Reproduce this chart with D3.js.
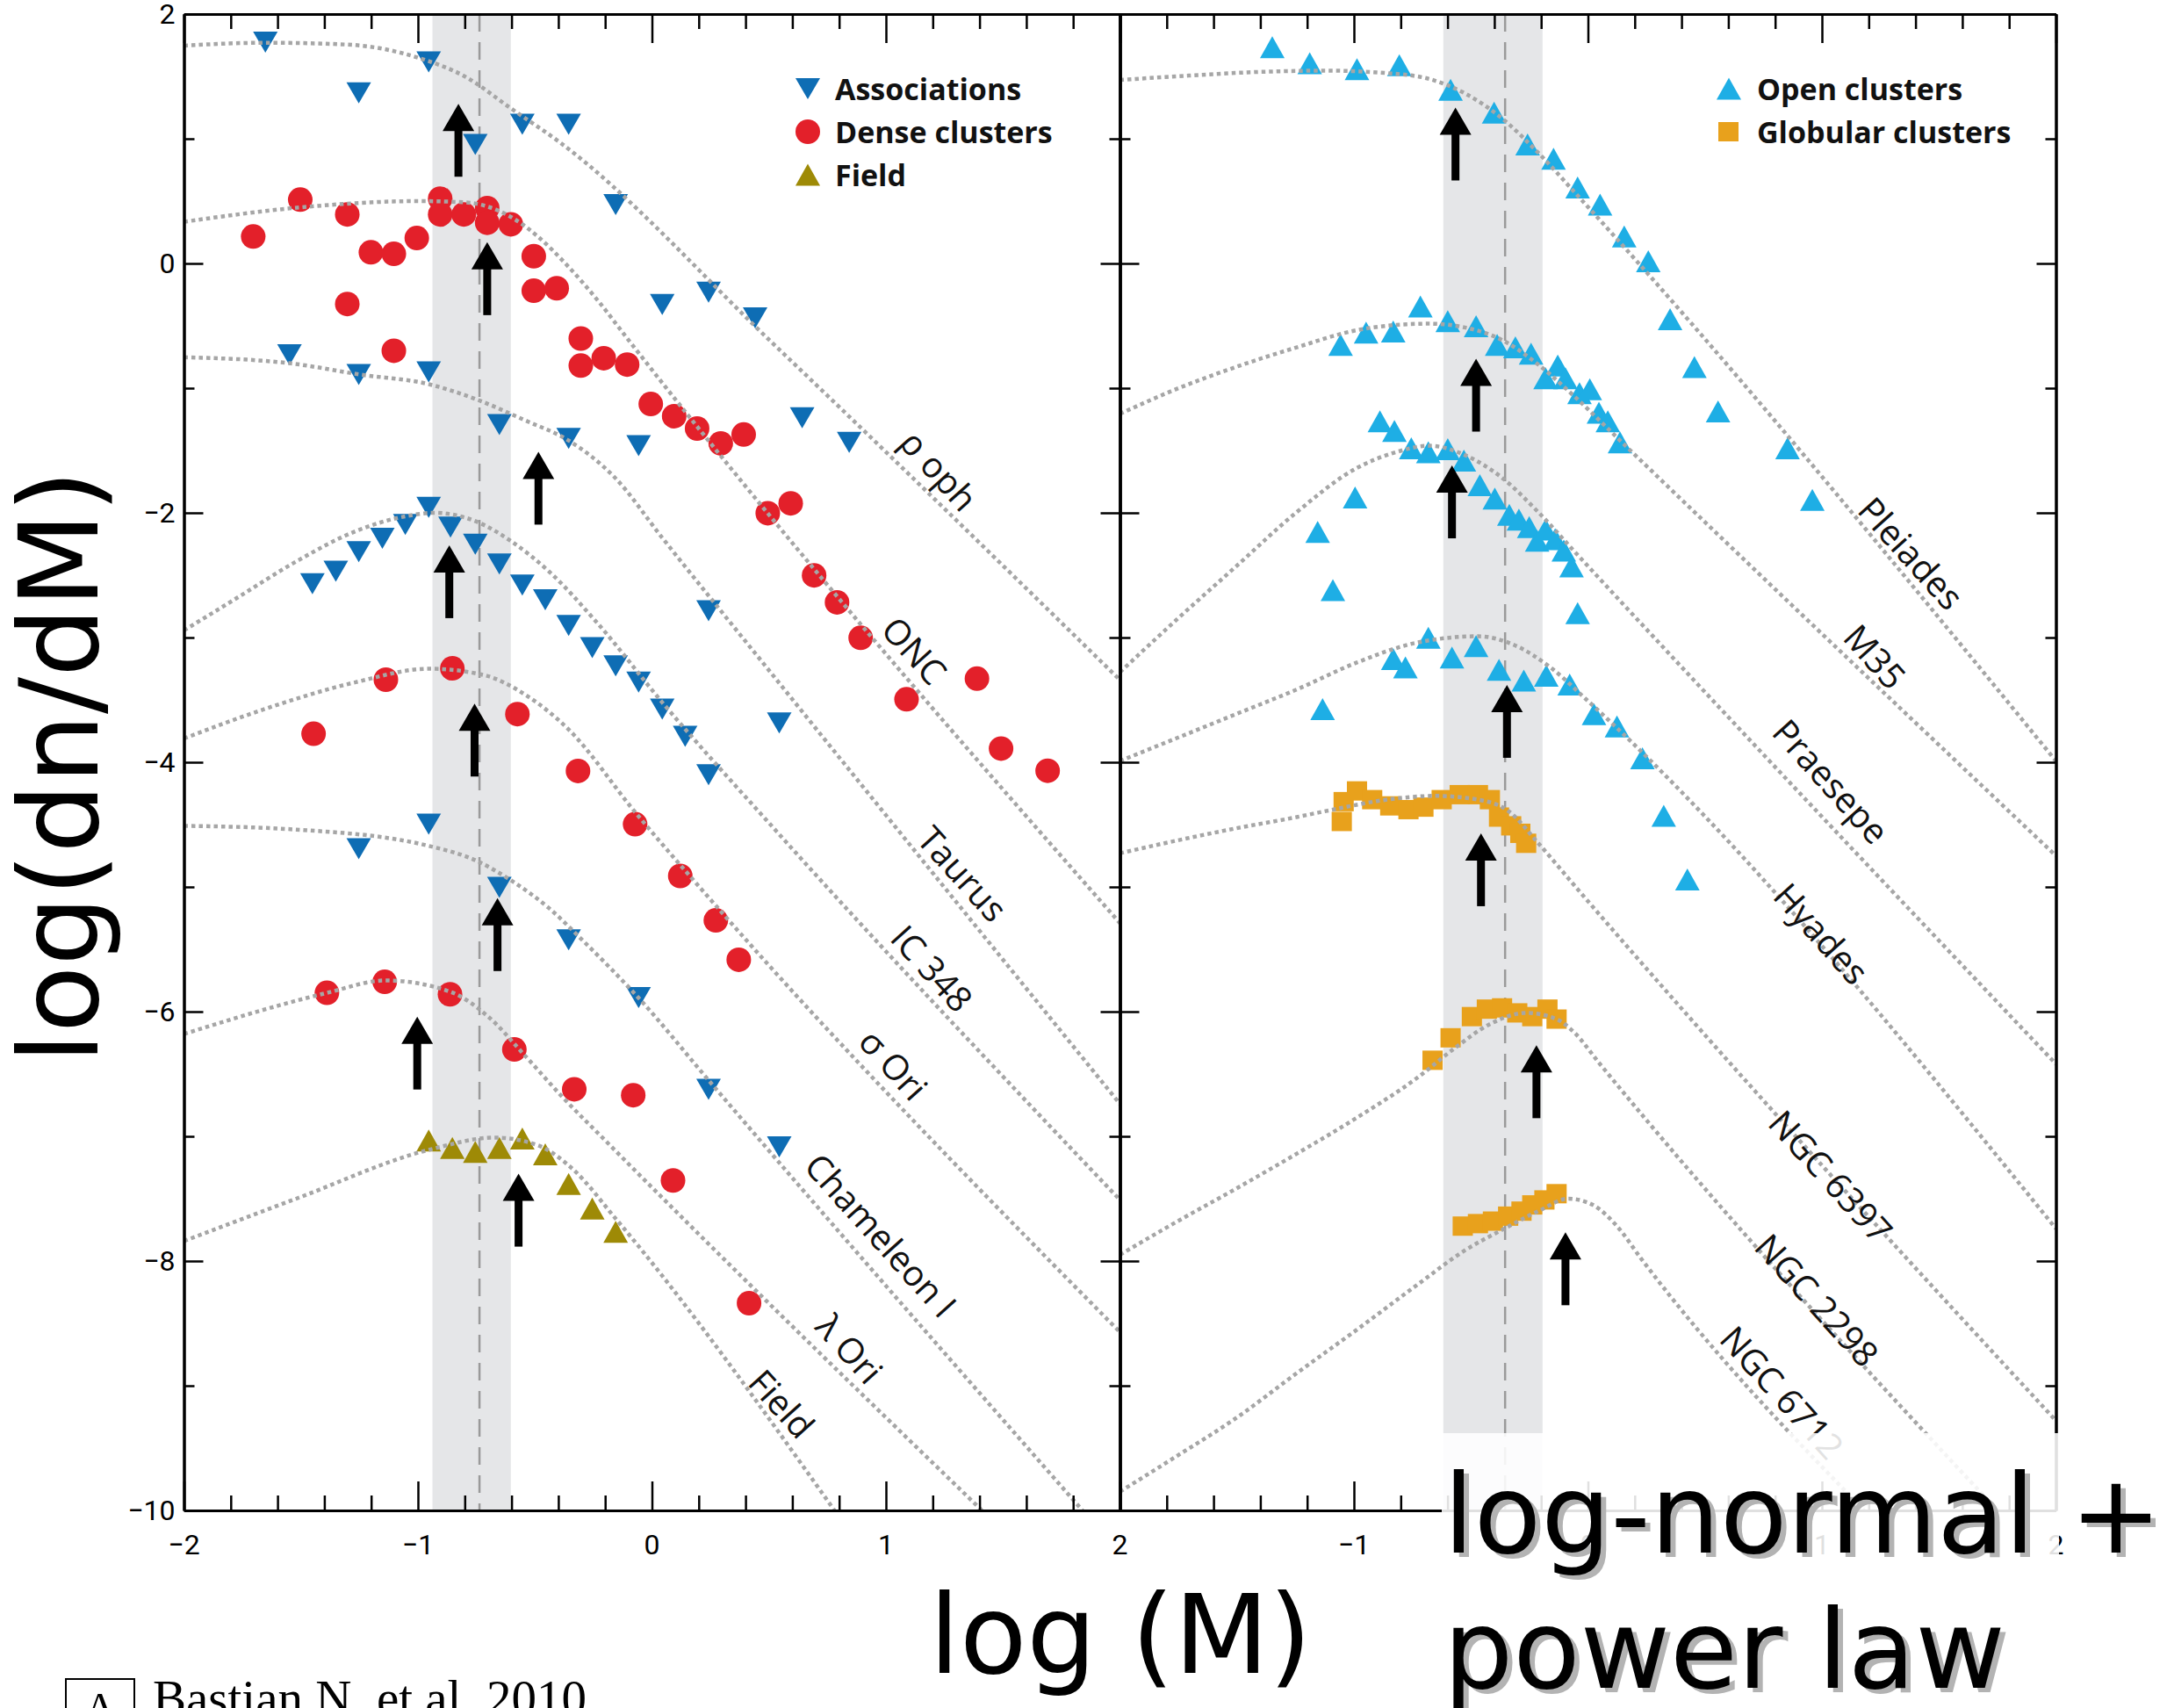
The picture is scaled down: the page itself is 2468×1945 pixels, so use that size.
<!DOCTYPE html>
<html><head><meta charset="utf-8">
<script src="https://cdn.jsdelivr.net/npm/d3@7"></script>
<style>body{margin:0;background:#fff}svg{display:block}</style>
</head><body>
<svg id="c" width="2468" height="1945"></svg>
<script>
// ---------------- DATA ----------------
const xTickVals = [-2,-1,0,1,2];
const xTickLabelsL = ["\u22122","\u22121","0","1","2"];
const xTickValsR = [-1,0,1,2];
const xTickLabelsR = ["\u22121","0","1","2"];
const yTickVals = [2,0,-2,-4,-6,-8,-10];
const yTickLabels = ["2","0","\u22122","\u22124","\u22126","\u22128","\u221210"];

// Associations (blue, down triangles) – left panel
const associations = [
 [-1.652,1.775],[-0.954,1.617],[-1.253,1.368],[-0.755,0.954],[-0.554,1.116],[-0.356,1.116],[-0.155,0.472],[0.044,-0.329],[0.242,-0.231],[0.441,-0.436],[0.642,-1.237],[0.843,-1.435],
 [-1.549,-0.732],[-1.253,-0.890],[-0.954,-0.870],[-0.652,-1.293],[-0.356,-1.403],[-0.057,-1.462],[0.242,-2.785],[0.544,-3.685],
 [-1.451,-2.568],[-1.351,-2.469],[-1.253,-2.311],[-1.152,-2.205],[-1.054,-2.094],[-0.954,-1.956],[-0.861,-2.114],[-0.755,-2.252],[-0.652,-2.410],[-0.554,-2.580],[-0.456,-2.698],[-0.356,-2.903],[-0.255,-3.081],[-0.155,-3.227],[-0.057,-3.357],[0.044,-3.574],[0.142,-3.792],[0.242,-4.10],
 [-0.954,-4.497],[-1.253,-4.694],[-0.652,-5.003],[-0.356,-5.425],[-0.057,-5.888],[0.242,-6.623],[0.544,-7.085]
];
// Dense clusters (red circles) – ONC, sigma Ori, lambda Ori
const denseClusters = [
 [-1.704,0.216],[-1.503,0.512],[-1.302,0.393],[-1.302,-0.325],[-1.201,0.089],[-1.103,0.077],[-1.103,-0.700],[-1.005,0.204],[-0.905,0.520],[-0.905,0.393],[-0.804,0.393],[-0.704,0.444],[-0.704,0.326],[-0.603,0.314],[-0.505,0.058],[-0.505,-0.219],[-0.407,-0.199],[-0.304,-0.602],[-0.304,-0.819],[-0.206,-0.760],[-0.106,-0.811],[-0.005,-1.127],[0.095,-1.225],[0.193,-1.324],[0.294,-1.443],[0.392,-1.372],[0.495,-2.003],[0.593,-1.924],[0.693,-2.501],[0.791,-2.718],[0.892,-3.002],[1.088,-3.495],[1.389,-3.330],[1.492,-3.890],[1.691,-4.068],
 [-1.446,-3.772],[-1.137,-3.338],[-0.853,-3.247],[-0.575,-3.614],[-0.316,-4.07],[-0.072,-4.497],[0.121,-4.912],[0.273,-5.268],[0.371,-5.584],
 [-1.389,-5.849],[-1.142,-5.761],[-0.863,-5.861],[-0.588,-6.303],[-0.332,-6.623],[-0.080,-6.670],[0.090,-7.354],[0.415,-8.338]
];
// Field (olive, up triangles)
const fieldStars = [
 [-0.954,-7.034],[-0.853,-7.094],[-0.755,-7.125],[-0.652,-7.094],[-0.554,-7.018],[-0.456,-7.145],[-0.356,-7.382],[-0.255,-7.580],[-0.155,-7.765]
];
// Open clusters (light blue up triangles) – right panel
const openClusters = [
 [-1.349,1.735],[-1.189,1.605],[-0.987,1.558],[-0.806,1.589],[-0.587,1.392],[-0.401,1.210],[-0.258,0.954],[-0.147,0.839],[-0.044,0.610],[0.052,0.472],[0.155,0.216],[0.258,0.018],[0.351,-0.448],[0.455,-0.831],[0.556,-1.186],[0.853,-1.482],[0.959,-1.897],
 [-1.057,-0.653],[-0.948,-0.554],[-0.832,-0.546],[-0.716,-0.345],[-0.599,-0.463],[-0.478,-0.503],[-0.388,-0.653],[-0.310,-0.673],[-0.243,-0.724],[-0.181,-0.921],[-0.129,-0.819],[-0.096,-0.921],[-0.036,-1.040],[0.008,-1.008],[0.047,-1.198],[0.085,-1.265],[0.137,-1.435],
 [-1.155,-2.153],[-1.090,-2.619],[-0.995,-1.877],[-0.889,-1.265],[-0.827,-1.344],[-0.755,-1.482],[-0.682,-1.514],[-0.599,-1.490],[-0.530,-1.581],[-0.462,-1.778],[-0.398,-1.885],[-0.336,-2.015],[-0.295,-2.054],[-0.251,-2.114],[-0.217,-2.224],[-0.181,-2.133],[-0.140,-2.212],[-0.103,-2.303],[-0.070,-2.430],[-0.044,-2.805],
 [-1.134,-3.574],[-0.832,-3.172],[-0.780,-3.239],[-0.682,-3.002],[-0.581,-3.160],[-0.478,-3.069],[-0.380,-3.259],[-0.274,-3.345],[-0.178,-3.306],[-0.078,-3.377],[0.026,-3.614],[0.124,-3.713],[0.233,-3.969],[0.324,-4.43],[0.425,-4.94]
];
// Globular clusters (orange squares)
const globularClusters = [
 [-1.052,-4.475],[-1.044,-4.316],[-0.987,-4.23],[-0.922,-4.30],[-0.845,-4.35],[-0.767,-4.38],[-0.703,-4.36],[-0.625,-4.30],[-0.548,-4.26],[-0.470,-4.26],[-0.419,-4.30],[-0.380,-4.44],[-0.328,-4.51],[-0.289,-4.57],[-0.264,-4.65],
 [-0.664,-6.39],[-0.587,-6.21],[-0.496,-6.04],[-0.432,-5.98],[-0.367,-5.97],[-0.302,-6.01],[-0.238,-6.04],[-0.173,-5.98],[-0.134,-6.06],
 [-0.535,-7.72],[-0.470,-7.70],[-0.406,-7.68],[-0.341,-7.64],[-0.284,-7.60],[-0.238,-7.55],[-0.186,-7.51],[-0.134,-7.46]
];

// Model curves (log-normal + power law)
const curveRhoOph = [[-2,1.747],[-1.65,1.77],[-1.3,1.755],[-1.0,1.65],[-0.8,1.50],[-0.6,1.24],[-0.4,0.98],[0.516,-0.64],[2,-3.34]];
const curveONC = [[-2,0.334],[-1.5,0.45],[-1.0,0.50],[-0.8,0.49],[-0.6,0.37],[-0.49,0.22],[-0.36,-0.02],[-0.23,-0.30],[-0.11,-0.59],[2,-5.29]];
const curveTaurus = [[-2,-0.752],[-1.55,-0.80],[-1.25,-0.89],[-0.95,-0.97],[-0.75,-1.09],[-0.54,-1.26],[-0.356,-1.42],[-0.157,-1.72],[0.044,-2.20],[0.516,-3.30],[2,-6.74]];
const curveIC348 = [[-2,-2.943],[-1.78,-2.69],[-1.52,-2.39],[-1.27,-2.15],[-1.06,-2.03],[-0.93,-2.0],[-0.75,-2.07],[-0.60,-2.23],[-0.44,-2.47],[-0.235,-2.88],[0.044,-3.52],[0.516,-4.52],[2,-7.51]];
const curveSigmaOri = [[-2,-3.81],[-1.65,-3.57],[-1.27,-3.36],[-0.95,-3.25],[-0.72,-3.30],[-0.54,-3.46],[-0.36,-3.73],[-0.072,-4.40],[0.273,-5.15],[2,-8.57]];
const curveChamI = [[-2,-4.51],[-1.52,-4.54],[-0.956,-4.67],[-0.75,-4.79],[-0.60,-4.95],[-0.44,-5.17],[-0.29,-5.44],[-0.057,-5.89],[0.242,-6.55],[1.84,-10]];
const curveLambdaOri = [[-2,-6.18],[-1.65,-5.98],[-1.39,-5.85],[-1.137,-5.75],[-0.863,-5.84],[-0.70,-6.04],[-0.544,-6.35],[-0.39,-6.67],[-0.18,-7.07],[1.41,-10]];
const curveField = [[-2,-7.84],[-1.52,-7.50],[-0.956,-7.11],[-0.67,-7.01],[-0.49,-7.07],[-0.34,-7.26],[-0.155,-7.66],[0.78,-10]];

const curvePleiades = [[-2,1.471],[-1.762,1.50],[-1.375,1.538],[-1.116,1.546],[-0.858,1.526],[-0.677,1.479],[-0.522,1.36],[-0.367,1.163],[-0.212,0.887],[-0.057,0.571],[2,-3.99]];
const curveM35 = [[-2,-1.206],[-1.762,-1.01],[-1.504,-0.83],[-1.245,-0.673],[-0.987,-0.535],[-0.832,-0.495],[-0.677,-0.483],[-0.522,-0.515],[-0.367,-0.614],[-0.212,-0.811],[-0.057,-1.068],[0.15,-1.443],[2,-4.75]];
const curvePraesepe = [[-2,-3.278],[-1.762,-2.864],[-1.504,-2.43],[-1.245,-1.995],[-0.987,-1.64],[-0.832,-1.52],[-0.677,-1.462],[-0.522,-1.54],[-0.367,-1.719],[-0.212,-1.995],[-0.057,-2.311],[2,-6.42]];
const curveHyades = [[-2,-3.99],[-1.762,-3.81],[-1.504,-3.614],[-1.245,-3.417],[-0.987,-3.20],[-0.729,-3.04],[-0.47,-2.99],[-0.315,-3.06],[-0.16,-3.24],[-0.005,-3.50],[2,-7.74]];
const curveNGC6397 = [[-2,-4.73],[-1.762,-4.63],[-1.504,-4.53],[-1.245,-4.44],[-1.09,-4.38],[-0.858,-4.30],[-0.651,-4.27],[-0.47,-4.30],[-0.341,-4.39],[-0.212,-4.65],[-0.057,-4.99],[2,-9.28]];
const curveNGC2298 = [[-2,-7.95],[-1.762,-7.69],[-1.504,-7.42],[-1.245,-7.14],[-0.987,-6.85],[-0.729,-6.53],[-0.574,-6.30],[-0.419,-6.10],[-0.264,-6.01],[-0.134,-6.06],[-0.057,-6.17],[0.047,-6.41],[1.75,-10]];
const curveNGC6712 = [[-2,-9.85],[-1.762,-9.57],[-1.504,-9.26],[-1.245,-8.90],[-0.987,-8.55],[-0.729,-8.19],[-0.522,-7.91],[-0.367,-7.75],[-0.212,-7.60],[-0.083,-7.50],[0.021,-7.55],[0.124,-7.72],[0.227,-7.98],[1.18,-10]];

const leftCurveNames = ["\u03C1 oph","ONC","Taurus","IC 348","\u03C3 Ori","Chameleon I","\u03BB Ori","Field"];
const leftLabelPos = [[1.229,-1.655],[1.124,-3.10],[1.33,-4.89],[1.199,-5.65],[1.034,-6.42],[0.981,-7.79],[0.847,-8.70],[0.557,-9.14]];
const rightCurveNames = ["Pleiades","M35","Praesepe","Hyades","NGC 6397","NGC 2298","NGC 6712"];
const rightLabelPos = [[1.383,-2.32],[1.229,-3.15],[1.041,-4.15],[1.0,-5.37],[1.04,-7.32],[0.981,-8.31],[0.832,-9.05]];

// characteristic-mass arrows: [log M, tip value]
const leftArrows = [[-0.827,1.28],[-0.704,0.17],[-0.485,-1.51],[-0.866,-2.26],[-0.758,-3.53],[-0.66,-5.09],[-1.003,-6.04],[-0.57,-7.30]];
const rightArrows = [[-0.566,1.25],[-0.478,-0.764],[-0.581,-1.62],[-0.346,-3.38],[-0.457,-4.57],[-0.220,-6.27],[-0.096,-7.77]];

// shaded bands and dashed lines
const leftBand = [-0.938,-0.603], leftDash = -0.737;
const rightBand = [-0.618,-0.194], rightDash = -0.354;

const legendLeft = ["Associations","Dense clusters","Field"];
const legendRight = ["Open clusters","Globular clusters"];

// ---------------- DRAW ----------------
const svg = d3.select("#c");
const xL = d3.scaleLinear().domain([-2,2]).range([209.5,1275.5]);
const xR = d3.scaleLinear().domain([-2,2]).range([1275.5,2341.5]);
const y = d3.scaleLinear().domain([-10,2]).range([1720,16]);

const C = {assoc:"#0e6db4", dense:"#e3202a", field:"#9e8a06", open:"#1eaee5", glob:"#e8a11c", curve:"#a6a6a6"};

const defs = svg.append("defs");
[["clipL",xL],["clipR",xR]].forEach(([id,xs])=>{
  defs.append("clipPath").attr("id",id).append("rect")
    .attr("x",xs(-2)).attr("y",y(2)).attr("width",xs(2)-xs(-2)).attr("height",y(-10)-y(2));
});

// bands
[[xL,leftBand,leftDash],[xR,rightBand,rightDash]].forEach(([xs,b,d])=>{
  svg.append("rect").attr("x",xs(b[0])).attr("y",y(2)).attr("width",xs(b[1])-xs(b[0])).attr("height",y(-10)-y(2)).attr("fill","#e5e6e8");
  svg.append("line").attr("x1",xs(d)).attr("x2",xs(d)).attr("y1",y(2)).attr("y2",y(-10))
    .attr("stroke","#9a9a9a").attr("stroke-width",2.5).attr("stroke-dasharray","20,12");
});

const triDown = (w,h)=>`M${-w/2},${-h/2}L${w/2},${-h/2}L0,${h/2}Z`;
const triUp = (w,h)=>`M${-w/2},${h/2}L${w/2},${h/2}L0,${-h/2}Z`;

function drawPts(data, xs, shape, color){
  const g = svg.append("g");
  if (shape==="circle"){
    g.selectAll("circle").data(data).join("circle").attr("cx",d=>xs(d[0])).attr("cy",d=>y(d[1])).attr("r",14).attr("fill",color);
  } else if (shape==="square"){
    g.selectAll("rect").data(data).join("rect").attr("x",d=>xs(d[0])-11.5).attr("y",d=>y(d[1])-11).attr("width",23).attr("height",22).attr("fill",color);
  } else {
    const p = shape==="down"? triDown(28,24) : triUp(28,25);
    g.selectAll("path").data(data).join("path").attr("d",p).attr("transform",d=>`translate(${xs(d[0])},${y(d[1])})`).attr("fill",color);
  }
}
drawPts(associations,xL,"down",C.assoc);
drawPts(denseClusters,xL,"circle",C.dense);
drawPts(fieldStars,xL,"up",C.field);
drawPts(openClusters,xR,"up",C.open);
drawPts(globularClusters,xR,"square",C.glob);

// curves
const leftCurves = [curveRhoOph,curveONC,curveTaurus,curveIC348,curveSigmaOri,curveChamI,curveLambdaOri,curveField];
const rightCurves = [curvePleiades,curveM35,curvePraesepe,curveHyades,curveNGC6397,curveNGC2298,curveNGC6712];
function drawCurves(curves, xs, clip){
  const line = d3.line().x(d=>xs(d[0])).y(d=>y(d[1])).curve(d3.curveMonotoneX);
  svg.append("g").attr("clip-path",`url(#${clip})`).selectAll("path").data(curves).join("path")
    .attr("d",line).attr("fill","none").attr("stroke",C.curve).attr("stroke-width",4.5).attr("stroke-dasharray","4.5,4");
}
drawCurves(leftCurves,xL,"clipL");
drawCurves(rightCurves,xR,"clipR");

// arrows
function drawArrows(arr, xs){
  const g = svg.append("g").attr("fill","#000");
  arr.forEach(a=>{
    const tx = xs(a[0]), ty = y(a[1]);
    g.append("path").attr("d",`M${tx},${ty}L${tx+18},${ty+31}L${tx-18},${ty+31}Z`);
    g.append("rect").attr("x",tx-4.5).attr("y",ty+29).attr("width",9).attr("height",54);
  });
}
drawArrows(leftArrows,xL);
drawArrows(rightArrows,xR);

// curve labels
function drawLabels(names,pos,xs){
  svg.append("g").selectAll("text").data(names).join("text")
    .attr("transform",(d,i)=>`translate(${xs(pos[i][0])},${y(pos[i][1])}) rotate(48)`)
    .attr("text-anchor","middle").attr("dominant-baseline","central")
    .attr("font-family","'Open Sans', sans-serif").attr("font-size",40).attr("fill","#111").text(d=>d);
}
drawLabels(leftCurveNames,leftLabelPos,xL);
drawLabels(rightCurveNames,rightLabelPos,xR);

// axes
const xMinor = d3.range(-1.8,2,0.2).filter(v=>Math.abs(v-Math.round(v))>1e-6);
const yMinor = [1,-1,-3,-5,-7,-9];
const ax = svg.append("g");
function styleAx(g){ g.selectAll("path.domain").attr("stroke","#000").attr("stroke-width",3); g.selectAll(".tick line").attr("stroke","#000").attr("stroke-width",2.5); g.selectAll("text").remove(); }
[xL,xR].forEach(xs=>{
  ax.append("g").attr("transform",`translate(0,${y(-10)})`).call(d3.axisBottom(xs).tickValues(xMinor).tickSize(-17).tickSizeOuter(0)).call(styleAx);
  ax.append("g").attr("transform",`translate(0,${y(-10)})`).call(d3.axisBottom(xs).tickValues(xTickVals).tickSize(-33).tickSizeOuter(0)).call(styleAx);
  ax.append("g").attr("transform",`translate(0,${y(2)})`).call(d3.axisTop(xs).tickValues(xMinor).tickSize(-17).tickSizeOuter(0)).call(styleAx);
  ax.append("g").attr("transform",`translate(0,${y(2)})`).call(d3.axisTop(xs).tickValues(xTickVals).tickSize(-33).tickSizeOuter(0)).call(styleAx);
  ax.append("g").attr("transform",`translate(${xs(-2)},0)`).call(d3.axisLeft(y).tickValues(yMinor).tickSize(-12).tickSizeOuter(0)).call(styleAx);
  ax.append("g").attr("transform",`translate(${xs(-2)},0)`).call(d3.axisLeft(y).tickValues(yTickVals).tickSize(-22).tickSizeOuter(0)).call(styleAx);
  ax.append("g").attr("transform",`translate(${xs(2)},0)`).call(d3.axisRight(y).tickValues(yMinor).tickSize(-12).tickSizeOuter(0)).call(styleAx);
  ax.append("g").attr("transform",`translate(${xs(2)},0)`).call(d3.axisRight(y).tickValues(yTickVals).tickSize(-22).tickSizeOuter(0)).call(styleAx);
});
const tickFont = "'Liberation Sans Narrow', Roboto, sans-serif";
svg.append("g").selectAll("text").data(yTickVals).join("text")
  .attr("x",xL(-2)-10).attr("y",d=>y(d)).attr("text-anchor","end").attr("dominant-baseline","central")
  .attr("font-family",tickFont).attr("font-size",32).text((d,i)=>yTickLabels[i]);
svg.append("g").selectAll("text").data(xTickVals).join("text")
  .attr("x",d=>xL(d)).attr("y",1759).attr("text-anchor","middle").attr("dominant-baseline","central")
  .attr("font-family",tickFont).attr("font-size",32).text((d,i)=>xTickLabelsL[i]);
svg.append("g").selectAll("text").data(xTickValsR).join("text")
  .attr("x",d=>xR(d)).attr("y",1759).attr("text-anchor","middle").attr("dominant-baseline","central")
  .attr("font-family",tickFont).attr("font-size",32).text((d,i)=>xTickLabelsR[i]);

// legends
const legFont = "'Open Sans', sans-serif";
const lg = svg.append("g").attr("font-family",legFont).attr("font-weight",700).attr("font-size",34).attr("fill","#111");
const legRowsL = [[triDown(28,24),C.assoc],[null,C.dense],[triUp(28,25),C.field]];
legendLeft.forEach((t,i)=>{
  const cy = 101 + i*49;
  if (legRowsL[i][0]) lg.append("path").attr("d",legRowsL[i][0]).attr("transform",`translate(920,${cy})`).attr("fill",legRowsL[i][1]);
  else lg.append("circle").attr("cx",920).attr("cy",cy).attr("r",14).attr("fill",legRowsL[i][1]);
  lg.append("text").attr("x",951).attr("y",cy).attr("dominant-baseline","central").text(t);
});
legendRight.forEach((t,i)=>{
  const cy = 101 + i*49;
  if (i===0) lg.append("path").attr("d",triUp(28,25)).attr("transform",`translate(1969,${cy})`).attr("fill",C.open);
  else lg.append("rect").attr("x",1957).attr("y",cy-11).attr("width",23).attr("height",22).attr("fill",C.glob);
  lg.append("text").attr("x",2001).attr("y",cy).attr("dominant-baseline","central").text(t);
});

// axis titles
const big = "'DejaVu Sans', sans-serif";
svg.append("text").attr("transform","translate(111,873) rotate(-90)").attr("text-anchor","middle")
  .attr("font-family",big).attr("font-size",125).attr("fill","#000").text("log(dn/dM)");
svg.append("text").attr("x",1276).attr("y",1905).attr("text-anchor","middle")
  .attr("font-family",big).attr("font-size",125).attr("fill","#000").text("log (M)");

// semi-transparent box + annotation
svg.append("rect").attr("x",1642).attr("y",1632).attr("width",703).attr("height",313).attr("fill","#fff").attr("opacity",0.88);
const ann = [["log-normal +",1768],["power law",1922]];
ann.forEach(([t,by])=>{
  svg.append("text").attr("x",1650).attr("y",by+5).attr("font-family",big).attr("font-size",125).attr("fill","#b3b3b3").text(t);
  svg.append("text").attr("x",1644).attr("y",by).attr("font-family",big).attr("font-size",125).attr("fill","#000").text(t);
});

// citation
svg.append("rect").attr("x",75).attr("y",1912).attr("width",78).attr("height",60).attr("fill","none").attr("stroke","#000").attr("stroke-width",2);
svg.append("text").attr("x",114).attr("y",1962).attr("text-anchor","middle").attr("font-family","'Liberation Serif', serif").attr("font-size",50).text("A");
svg.append("text").attr("x",174).attr("y",1953).attr("font-family","'Liberation Serif', serif").attr("font-size",57).attr("fill","#000").text("Bastian N. et al. 2010");
</script>
</body></html>
